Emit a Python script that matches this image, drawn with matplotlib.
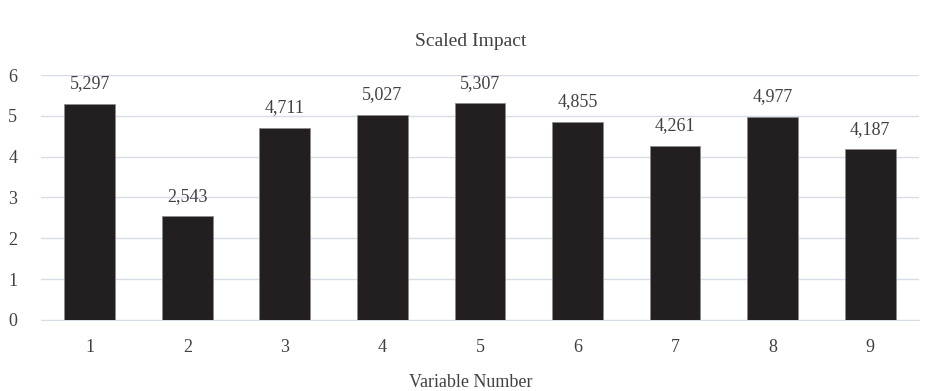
import matplotlib
matplotlib.use("Agg")
from matplotlib import pyplot as plt

plt.rcParams['font.family'] = ['Liberation Serif', 'DejaVu Serif']

variables = ['1', '2', '3', '4', '5', '6', '7', '8', '9']
impact = [5.297, 2.543, 4.711, 5.027, 5.307, 4.855, 4.261, 4.977, 4.187]

fig = plt.figure(figsize=(9.42, 3.91), dpi=100)
ax = fig.add_axes([0.0435, 0.182, 0.932, 0.626])

x = range(len(variables))
bars = ax.bar(x, impact, width=0.52, color='#231f20', edgecolor='#8c8c8c', linewidth=0.6, zorder=3)
for xi, v in zip(x, impact):
    ax.text(xi, v + 0.28, f"{v:.3f}".replace('.', ','), ha='center', va='bottom',
            fontsize=13, color='#404040')

ax.set_xlim(-0.5, len(variables) - 0.5)
ax.set_ylim(0, 6)
ax.set_yticks(range(0, 7))
ax.set_xticks(list(x))
ax.set_xticklabels(variables)
ax.yaxis.grid(True, color='#d6dce8', linewidth=1, zorder=0)
for s in ['top', 'right', 'left']:
    ax.spines[s].set_visible(False)
ax.spines['bottom'].set_color('#d6dce8')
ax.tick_params(axis='both', length=0, labelsize=13, colors='#404040')
ax.tick_params(axis='x', pad=14)
ax.tick_params(axis='y', pad=17)

fig.text(0.5, 0.893, 'Scaled Impact', ha='center', va='center', fontsize=14, color='#404040')
fig.text(0.5, 0.022, 'Variable Number', ha='center', va='center', fontsize=13, color='#404040')

fig.savefig('out.png', dpi=100)
